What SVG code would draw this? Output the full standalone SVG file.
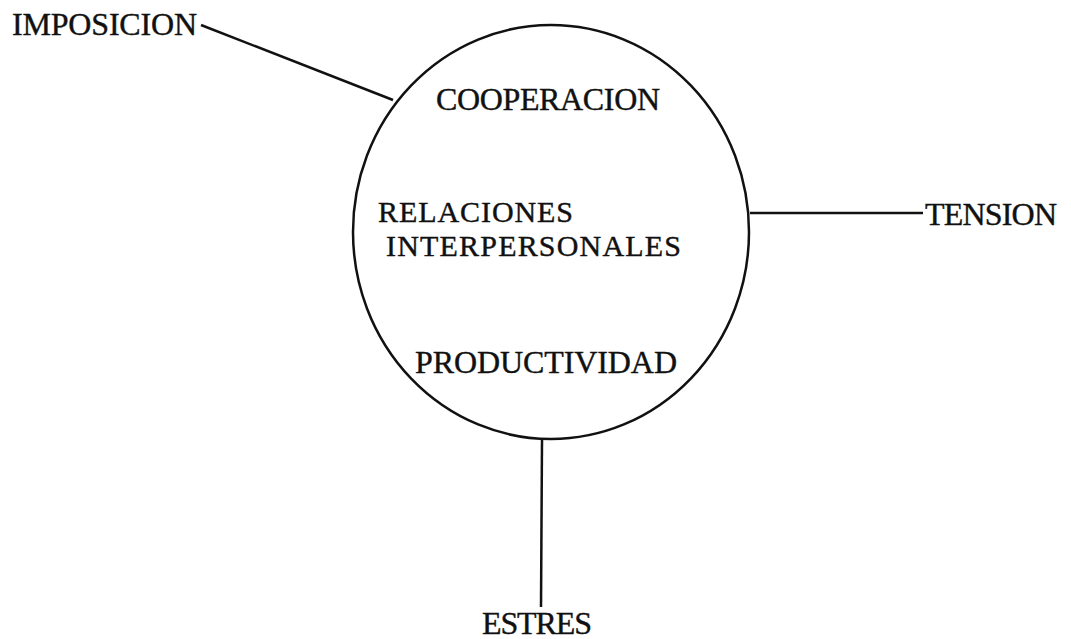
<svg xmlns="http://www.w3.org/2000/svg" width="1071" height="639" viewBox="0 0 1071 639">
<style>
text{font-family:"Liberation Serif","Times New Roman",serif;font-size:32px;fill:#111;stroke:#111;stroke-width:0.4}
text.sm{font-size:30px}
.ln{stroke:#111;stroke-width:2.5;fill:none}
</style>
<rect width="1071" height="639" fill="#fff"/>
<g id="connectors">
<line class="ln" x1="201" y1="25" x2="393" y2="100"/>
<line class="ln" x1="750" y1="213" x2="923" y2="213"/>
<line class="ln" x1="542" y1="440" x2="541" y2="607"/>
</g>
<g id="center">
<ellipse class="ln" cx="551" cy="232" rx="198" ry="207"/>
<text x="436" y="110" textLength="224">COOPERACION</text>
<text class="sm" x="378" y="222" textLength="195">RELACIONES</text>
<text class="sm" x="386" y="256" textLength="295">INTERPERSONALES</text>
<text x="415" y="373" textLength="262">PRODUCTIVIDAD</text>
</g>
<g id="imposicion"><text x="12" y="35" textLength="185">IMPOSICION</text></g>
<g id="tension"><text x="925" y="225" textLength="132">TENSION</text></g>
<g id="estres"><text x="482" y="634" textLength="110">ESTRES</text></g>
</svg>
